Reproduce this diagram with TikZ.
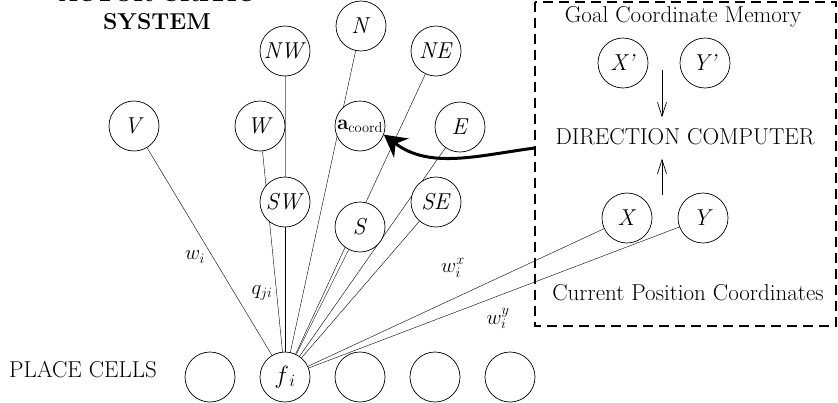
\documentclass[tikz,border=0pt]{standalone}
\usepackage{tikz}
\usetikzlibrary{arrows.meta}
\pgfdeclarelayer{bg}
\pgfsetlayers{bg,main}
\def\bigtext{\fontsize{23}{28}\selectfont}
\def\smalltext{\fontsize{20}{24}\selectfont}
\tikzset{
	cell/.style={circle, draw, fill=white, minimum size=50pt, inner sep=0pt, font=\bigtext},
	txt/.style={font=\bigtext, inner sep=0pt},
	lab/.style={font=\smalltext, inner sep=0pt},
	dirarrow/.style={-{Straight Barb[length=14pt,width=9pt]}}
}

\begin{document}
\begin{tikzpicture}[x=1pt, y=-1pt, line width=0.7pt]
		%%%%% START %%%%%
		\useasboundingbox (0, 0) rectangle (838, 402);
		
		\node[txt, font=\bigtext\bfseries, align=center, anchor=south] (title) at (157, 30) {ACTOR-CRITIC\\SYSTEM};
		
		\node[cell] (v) at (134, 126) {\textit{V}};
		\node[cell] (w) at (260, 126) {\textit{W}};
		\node[cell] (nw) at (285, 51) {\textit{NW}};
		\node[cell] (n) at (361, 26) {\textit{N}};
		\node[cell] (ne) at (436, 51) {\textit{NE}};
		\node[cell, font=\fontsize{20}{24}\selectfont] (acoord) at (360, 126) {$\mathbf{a}_{\mathrm{coord}}$};
		\node[cell] (e) at (460, 127) {\textit{E}};
		\node[cell] (sw) at (285, 202) {\textit{SW}};
		\node[cell] (s) at (360, 227) {\textit{S}};
		\node[cell] (se) at (436, 202) {\textit{SE}};
		
		\node[txt] (placecells) at (83, 370) {PLACE CELLS};
		\node[cell] (p1) at (210, 377) {};
		\node[cell] (fi) at (285, 377) {$f_{\,i}$};
		\node[cell] (p3) at (360, 377) {};
		\node[cell] (p4) at (435, 377) {};
		\node[cell] (p5) at (510, 377) {};
		
		\draw[dash pattern=on 10pt off 6pt, line width=1.8pt] (535, 2) rectangle (836, 326);
		\node[txt] (goalmem) at (683, 17) {Goal Coordinate Memory};
		\node[cell] (xg) at (623, 63) {\textit{X'}};
		\node[cell] (yg) at (705, 63) {\textit{Y'}};
		\node[txt] (dc) at (685, 137) {DIRECTION COMPUTER};
		\node[cell] (x) at (627, 218) {\textit{X}};
		\node[cell] (y) at (703, 218) {\textit{Y}};
		\node[txt] (curpos) at (688, 293) {Current Position Coordinates};
		
		\coordinate (goal) at (662, 70);
		\coordinate (cur) at (662, 195);
		\draw[dirarrow, shorten >=11pt] (goal) -- (goal |- dc.north);
		\draw[dirarrow, shorten >=13pt] (cur) -- (cur |- dc.south);
		
		\coordinate (boxin) at (535, 148);
		\draw[line width=3pt, -{Stealth[length=22pt,width=24pt]}] (boxin) .. controls (480, 155) and (430, 170) .. (acoord.-20);
		
		\begin{pgfonlayer}{bg}
			\draw (fi) -- (v);
			\draw (fi) -- (w);
			\draw[gray, line width=1pt] (fi) -- (nw);
			\draw (fi) -- (n);
			\draw (fi) -- (ne);
			\draw (fi) -- (e);
			\draw (fi) -- (sw);
			\draw (fi) -- (s);
			\draw (fi) -- (se);
			\draw (fi) -- (x);
			\draw (fi) -- (y);
		\end{pgfonlayer}
		
		\node[lab] (wi) at (195, 257) {$w_i$};
		\node[lab] (qji) at (262, 293) {$q_{ji}$};
		\node[lab] (wix) at (453, 268) {$w_i^x$};
		\node[lab] (wiy) at (498, 318) {$w_i^y$};
		
		%%%%% END %%%%%
	\end{tikzpicture}
\end{document}
